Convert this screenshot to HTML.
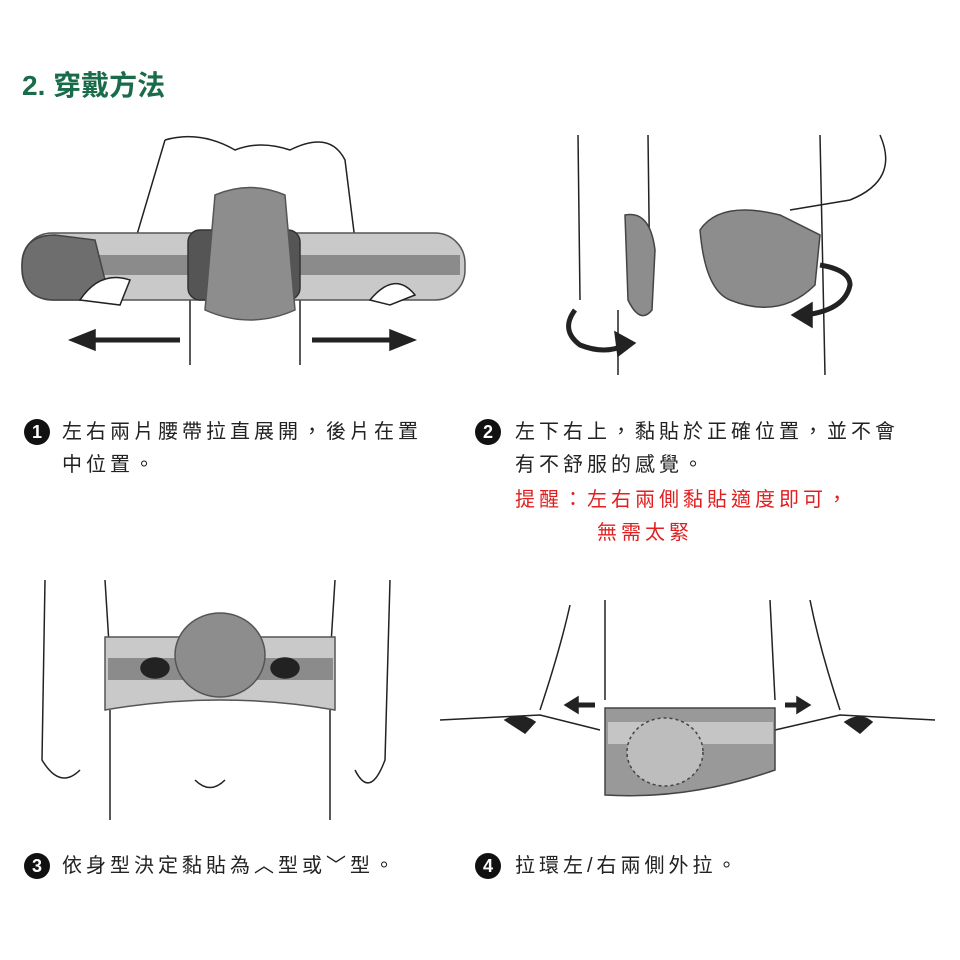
<!DOCTYPE html>
<html><head><meta charset="utf-8"><style>
body{margin:0;width:960px;height:960px;background:#fff;position:relative;overflow:hidden;font-family:"Liberation Sans","Noto Sans CJK TC",sans-serif}
.t{position:absolute;font-size:20px;letter-spacing:4px;color:#222;white-space:nowrap;line-height:20px}
.n{position:absolute;width:26px;height:26px;border-radius:50%;background:#111;color:#fff;font-weight:bold;font-size:18px;text-align:center;line-height:26px}
svg{position:absolute;left:0;top:0}
</style></head><body>
<svg width="960" height="960" fill="none" stroke="#222" stroke-width="1.5">
<!-- Panel 1 -->
<path d="M165 140 Q200 130 235 150 Q260 140 290 150 Q330 130 345 160 L360 280 M165 140 L125 275 M190 300 L190 365 M300 300 L300 365"/>
<rect x="22" y="233" width="443" height="67" rx="30" fill="#c9c9c9" stroke="#555"/>
<rect x="30" y="255" width="430" height="20" fill="#8b8b8b" stroke="none"/>
<path d="M22 266 Q22 235 55 235 L95 240 L110 300 L55 300 Q22 300 22 266Z" fill="#6e6e6e" stroke="#444"/>
<rect x="188" y="230" width="112" height="70" rx="12" fill="#555" stroke="#333"/>
<path d="M215 195 Q250 180 285 195 L295 310 Q250 330 205 310Z" fill="#8d8d8d" stroke="#555"/>
<path d="M80 300 Q100 270 130 280 L120 305 Z M370 300 Q395 270 415 295 L390 305Z" fill="#fff"/>
<path d="M180 340 L90 340" stroke-width="5"/><path d="M70 340 L95 330 L95 350Z" fill="#222"/>
<path d="M312 340 L395 340" stroke-width="5"/><path d="M415 340 L390 330 L390 350Z" fill="#222"/>
<!-- Panel 2 -->
<path d="M578 135 L580 300 M648 135 L650 295 M820 135 L825 375 M880 135 Q900 180 850 200 L790 210 M618 310 L618 375"/>
<path d="M625 215 Q650 210 655 250 L652 310 Q640 325 628 300Z" fill="#8d8d8d" stroke="#444"/>
<path d="M700 230 Q720 200 780 215 L820 235 L815 285 Q780 320 730 300 Q705 290 700 230Z" fill="#8d8d8d" stroke="#444"/>
<path d="M575 310 Q560 330 580 345 Q605 355 625 345" stroke-width="5"/><path d="M635 343 L615 332 L618 356Z" fill="#222"/>
<path d="M820 265 Q850 270 850 285 Q845 310 805 315" stroke-width="5"/><path d="M792 315 L812 303 L812 327Z" fill="#222"/>
<!-- Panel 3 -->
<path d="M45 580 L42 760 Q60 790 80 770 M105 580 L110 660 M335 580 L330 660 M390 580 L385 760 Q370 800 355 770 M110 710 L110 820 M330 710 L330 820 M195 780 Q210 795 225 780"/>
<path d="M105 637 L335 637 L335 710 Q220 690 105 710Z" fill="#c9c9c9" stroke="#555"/>
<rect x="108" y="658" width="225" height="22" fill="#8b8b8b" stroke="none"/>
<ellipse cx="220" cy="655" rx="45" ry="42" fill="#8d8d8d" stroke="#555"/>
<ellipse cx="155" cy="668" rx="14" ry="10" fill="#222"/><ellipse cx="285" cy="668" rx="14" ry="10" fill="#222"/>
<!-- Panel 4 -->
<path d="M570 605 Q560 650 540 710 M605 600 L605 700 M770 600 L775 700 M810 600 Q820 650 840 710 M440 720 L540 715 L600 730 M775 730 L840 715 L935 720"/>
<path d="M605 708 L775 708 L775 770 Q690 800 605 795Z" fill="#999" stroke="#444"/>
<rect x="608" y="722" width="165" height="22" fill="#c5c5c5" stroke="none"/>
<ellipse cx="665" cy="752" rx="38" ry="34" fill="#bdbdbd" stroke="#444" stroke-dasharray="3 3"/>
<path d="M505 720 Q520 712 535 722 L525 733 Z M845 722 Q860 712 872 722 L860 733Z" fill="#222"/>
<path d="M595 705 L575 705" stroke-width="5"/><path d="M565 705 L578 697 L578 713Z" fill="#222"/>
<path d="M785 705 L800 705" stroke-width="5"/><path d="M810 705 L797 697 L797 713Z" fill="#222"/>
</svg>
<div style="position:absolute;left:22px;top:64px;font-size:28px;font-weight:bold;color:#1a6b4a">2. 穿戴方法</div>
<div class="n" style="left:24px;top:419px">1</div>
<div class="t" style="left:62px;top:422px">左右兩片腰帶拉直展開，後片在置</div>
<div class="t" style="left:62px;top:455px">中位置。</div>
<div class="n" style="left:475px;top:419px">2</div>
<div class="t" style="left:515px;top:422px">左下右上，黏貼於正確位置，並不會</div>
<div class="t" style="left:515px;top:455px">有不舒服的感覺。</div>
<div class="t" style="left:515px;top:490px;color:#e02020">提醒：左右兩側黏貼適度即可，</div>
<div class="t" style="left:597px;top:523px;color:#e02020">無需太緊</div>
<div class="n" style="left:24px;top:853px">3</div>
<div class="t" style="left:62px;top:856px">依身型決定黏貼為︿型或﹀型。</div>
<div class="n" style="left:475px;top:853px">4</div>
<div class="t" style="left:515px;top:856px">拉環左/右兩側外拉。</div>
</body></html>
